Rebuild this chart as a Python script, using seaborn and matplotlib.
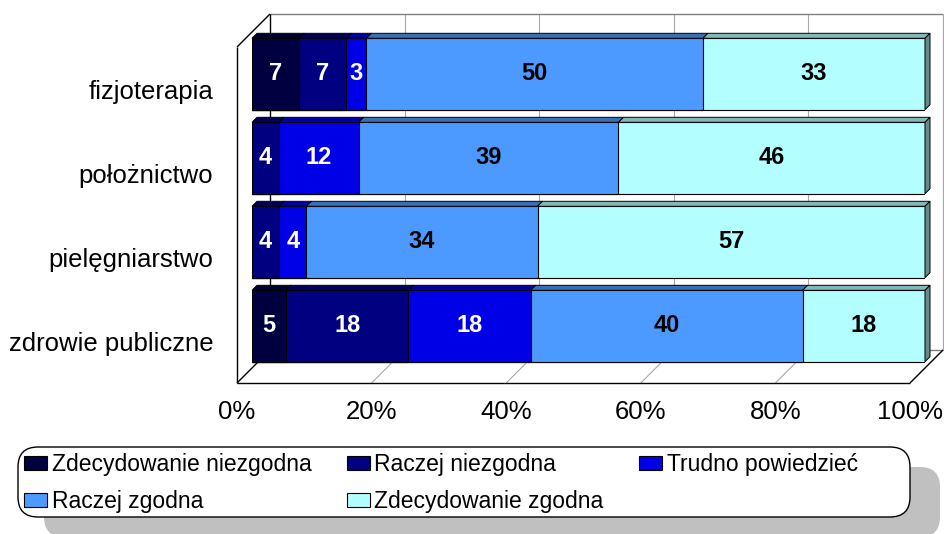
import numpy as np
import pandas as pd
import matplotlib
matplotlib.use("Agg")
import matplotlib.pyplot as plt
import seaborn as sns
from matplotlib.transforms import IdentityTransform
from matplotlib.patches import Polygon, Patch, FancyBboxPatch
from matplotlib.lines import Line2D
from matplotlib.colors import to_rgb

# ---------------- data ----------------
categories = ["fizjoterapia", "położnictwo", "pielęgniarstwo", "zdrowie publiczne"]
series = ["Zdecydowanie niezgodna", "Raczej niezgodna", "Trudno powiedzieć",
          "Raczej zgodna", "Zdecydowanie zgodna"]
zdecydowanie_niezgodna = [7, 0, 0, 5]
raczej_niezgodna = [7, 4, 4, 18]
trudno_powiedziec = [3, 12, 4, 18]
raczej_zgodna = [50, 39, 34, 40]
zdecydowanie_zgodna = [33, 46, 57, 18]
xtick_values = [0, 20, 40, 60, 80, 100]
xtick_labels = ["0%", "20%", "40%", "60%", "80%", "100%"]

colors = ["#000040", "#000080", "#0000E6", "#4C9AFF", "#B3FFFF"]
label_colors = ["white", "white", "white", "black", "black"]

values = np.array([zdecydowanie_niezgodna, raczej_niezgodna, trudno_powiedziec,
                   raczej_zgodna, zdecydowanie_zgodna], dtype=float).T  # cats x series
totals = values.sum(axis=1, keepdims=True)
cum = np.cumsum(values, axis=1) / totals * 100.0
start = cum - values / totals * 100.0

# ---------------- style ----------------
sns.set_theme(style="white")
plt.rcParams["font.family"] = ["Liberation Sans", "DejaVu Sans"]
plt.rcParams["text.color"] = "black"

DPI = 100
W, H = 944, 534
fig = plt.figure(figsize=(W / DPI, H / DPI), dpi=DPI)
fig.patch.set_facecolor("white")


def px_rect(left, top, right, bottom):
    return [left / W, 1 - bottom / H, (right - left) / W, (bottom - top) / H]


AX_L, AX_T, AX_R, AX_B = 252, 32, 925, 368
FRONT = 15        # bars sit this far behind the front plane
BACK = 33         # full depth of the 3D box
BAR_D = 5         # depth of each bar
AXW, AXH = AX_R - AX_L, AX_B - AX_T

ax = fig.add_axes(px_rect(AX_L, AX_T, AX_R, AX_B), zorder=2)
axf = fig.add_axes(px_rect(AX_L - FRONT, AX_T + FRONT, AX_R - FRONT, AX_B + FRONT), zorder=1)

# ---------------- front plane axes: tick labels and box frame ----------------
axf.set_xlim(0, 100)
axf.set_ylim(len(categories) - 0.5, -0.5)
axf.set_facecolor("none")
for s in axf.spines.values():
    s.set_visible(False)
axf.set_xticks(xtick_values)
axf.set_xticklabels(xtick_labels, fontsize=18.5, color="black")
axf.set_yticks(range(len(categories)))
axf.set_yticklabels(categories, fontsize=18.5, color="black")
axf.tick_params(axis="x", length=0, pad=12)
axf.tick_params(axis="y", length=0, pad=17)

bx, by = BACK / AXW, BACK / AXH
T = axf.transAxes


def line(xs, ys, color, lw=1.0):
    axf.add_line(Line2D(xs, ys, transform=T, color=color, lw=lw, clip_on=False,
                        solid_capstyle="butt"))


grid_c = "#A8A8A8"
# back wall gridlines and floor gridlines
for v in xtick_values[1:-1]:
    f = v / 100
    line([f + bx, f + bx], [by, 1 + by], grid_c, 0.8)
    line([f, f + bx], [0, by], grid_c, 0.8)
# back wall outline
line([bx, 1 + bx], [1 + by, 1 + by], "#808080", 1.0)
line([1 + bx, 1 + bx], [by, 1 + by], grid_c, 0.9)
line([bx, 1 + bx], [by, by], "#808080", 1.0)
# left wall & floor
line([bx, bx], [by, 1 + by], "black", 1.0)
line([0, 0], [0, 1], "black", 1.0)
line([0, bx], [1, 1 + by], "black", 1.0)
line([0, bx], [0, by], "black", 1.0)
line([0, 1], [0, 0], "black", 1.0)
line([1, 1 + bx], [0, by], "black", 1.0)

# ---------------- bars (seaborn, cumulative overlay) ----------------
for k in range(len(series) - 1, -1, -1):
    df = pd.DataFrame({"kategoria": categories, "cum": cum[:, k]})
    sns.barplot(data=df, x="cum", y="kategoria", orient="h", color=colors[k],
                saturation=1, width=0.85, edgecolor="black", linewidth=0.8, ax=ax)

ax.set_xlim(0, 100)
ax.set_ylim(len(categories) - 0.5, -0.5)
ax.set_facecolor("none")
for s in ax.spines.values():
    s.set_visible(False)
ax.set_xticks([])
ax.set_yticks([])
ax.set_xlabel("")
ax.set_ylabel("")


def shade(c, f):
    r, g, b = to_rgb(c)
    return (r * f, g * f, b * f)


dx = BAR_D / AXW * 100
dy = BAR_D / AXH * len(categories)
half = 0.85 / 2
for i in range(len(categories)):
    top, bot = i - half, i + half
    for k in range(len(series)):
        x0, x1 = start[i, k], cum[i, k]
        if values[i, k] <= 0:
            continue
        ax.add_patch(Polygon([(x0, top), (x1, top), (x1 + dx, top - dy), (x0 + dx, top - dy)],
                             closed=True, facecolor=shade(colors[k], 0.72), edgecolor="black",
                             lw=0.7, clip_on=False, zorder=3))
        ax.text((x0 + x1) / 2, i, f"{int(values[i, k])}", ha="center", va="center",
                color=label_colors[k], fontsize=17, fontweight="bold", zorder=4)
    ax.add_patch(Polygon([(100, top), (100 + dx, top - dy), (100 + dx, bot - dy), (100, bot)],
                         closed=True, facecolor=shade(colors[-1], 0.55), edgecolor="black",
                         lw=0.7, clip_on=False, zorder=3))

# ---------------- legend ----------------
box_l, box_t, box_r, box_b = 18, 447, 910, 517
shadow = FancyBboxPatch((box_l + 26, H - (box_b + 20)), box_r - box_l + 4, box_b - box_t,
                        boxstyle="round,pad=0,rounding_size=20", transform=IdentityTransform(),
                        facecolor="#C0C0C0", edgecolor="none", zorder=1)
box = FancyBboxPatch((box_l, H - box_b), box_r - box_l, box_b - box_t,
                     boxstyle="round,pad=0,rounding_size=20", transform=IdentityTransform(),
                     facecolor="white", edgecolor="black", lw=1.0, zorder=2)
fig.add_artist(shadow)
fig.add_artist(box)

handles = [Patch(facecolor=c, edgecolor="black", linewidth=0.8) for c in colors]
order = [0, 3, 1, 4, 2]
leg = fig.legend([handles[j] for j in order], [series[j] for j in order], ncol=3,
                 frameon=False, loc="upper left", bbox_to_anchor=(24 / W, 1 - 453 / H),
                 borderaxespad=0, borderpad=0, handlelength=1.0, handleheight=0.55,
                 handletextpad=0.2, columnspacing=1.55, labelspacing=0.6, fontsize=16.5,
                 labelcolor="black")
leg.set_zorder(3)

fig.savefig("out.png", dpi=DPI, facecolor="white")
